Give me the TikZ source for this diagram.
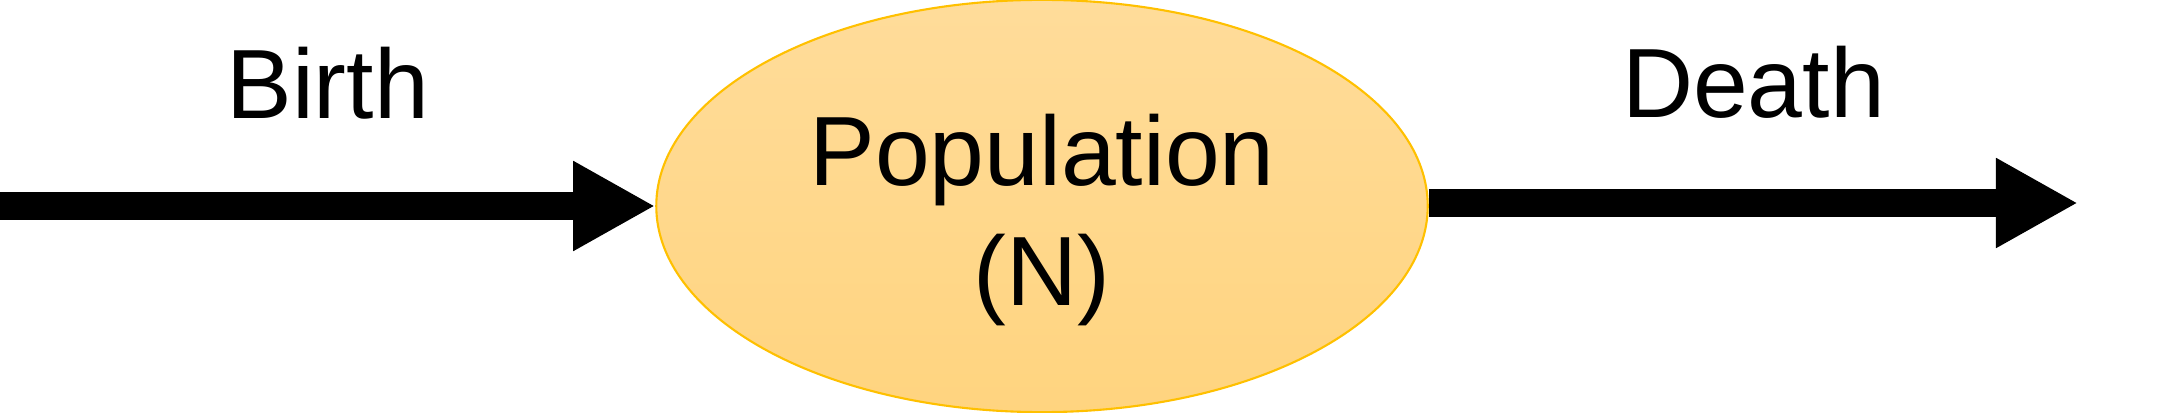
\documentclass[tikz,border=0pt]{standalone}
\usepackage{fontspec}
\setmainfont{Liberation Sans}
\usetikzlibrary{shapes.geometric,arrows.meta}
\definecolor{poptop}{HTML}{FFDC9A}
\definecolor{popbottom}{HTML}{FFD47F}
\definecolor{popedge}{HTML}{FFC000}
\begin{document}
\begin{tikzpicture}[x=0.01cm,y=0.01cm,
    every node/.style={font=\fontsize{28}{34}\selectfont},
    stock/.style={ellipse,draw=popedge,line width=0.6pt,top color=poptop,bottom color=popbottom,
      minimum width=7.71cm,minimum height=4.12cm,inner sep=0pt},
    stocktext/.style={align=center,inner sep=0pt},
    flow/.style={line width=0.28cm,-{Triangle[length=0.82cm,width=0.84cm]}},
    flowlabel/.style={midway,inner sep=0pt}]
    \useasboundingbox (0,0) rectangle (2164,412);
    \node[stock] (pop) at (1042,206) {};
    \node[stocktext] (poptext) at ([yshift=-0.14cm]pop.center) {Population\\(N)};
    \coordinate (birthsrc) at (0,206);
    \coordinate (deathend) at (2078,209);
    \draw[flow] (birthsrc) -- (pop.west) node[flowlabel,above=0.73cm] (birthlbl) {Birth};
    \draw[flow] (pop.east |- deathend) -- (deathend) node[flowlabel,above=0.70cm] (deathlbl) {Death};
  \end{tikzpicture}
\end{document}
